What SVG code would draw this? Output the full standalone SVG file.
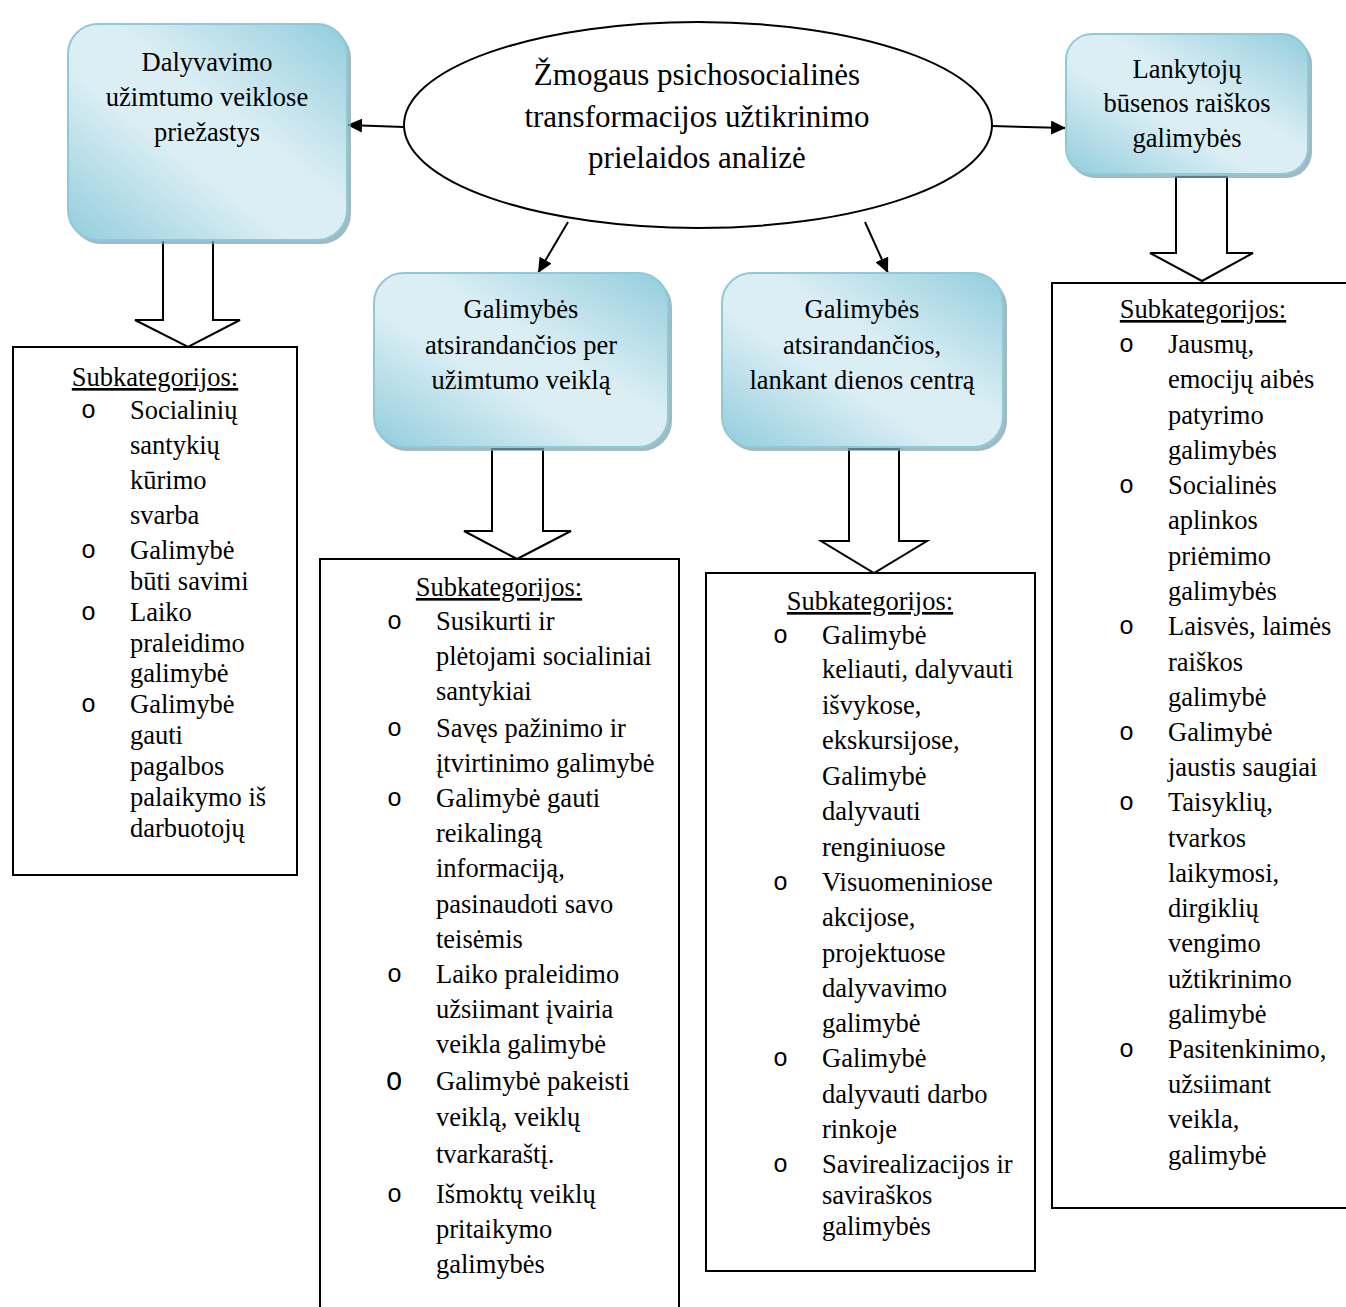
<svg xmlns="http://www.w3.org/2000/svg" width="1346" height="1307" viewBox="0 0 1346 1307">
  <style>
    .t { font-family: "Liberation Serif", "Times New Roman", serif; font-size: 26.5px; fill: #000; }
    .c { text-anchor: middle; }
    .big { font-size: 31px; }
    .u { text-decoration: underline; }
    .b { font-family: "Liberation Mono", "Courier New", monospace; font-size: 25px; fill: #000; }
    .card { fill: url(#cardFill); stroke: #8ec9d9; stroke-width: 2; }
    .shadow { fill: #7fa3ae; opacity: 0.75; }
    .frame { fill: #fff; stroke: #000; stroke-width: 2; }
    .block { fill: #fff; stroke: #000; stroke-width: 2; stroke-linejoin: miter; }
    .link { stroke: #000; stroke-width: 2; fill: none; marker-end: url(#head); }
  </style>
  <defs>
    <linearGradient id="cardFill" x1="1" y1="0" x2="0" y2="1">
      <stop offset="0" stop-color="#92cddc"/>
      <stop offset="0.42" stop-color="#dbeef4"/>
      <stop offset="0.6" stop-color="#dbeef4"/>
      <stop offset="1" stop-color="#92cddc"/>
    </linearGradient>
    <marker id="head" markerUnits="userSpaceOnUse" markerWidth="16" markerHeight="14" refX="15" refY="7" orient="auto">
      <path d="M0,0 L15,7 L0,14 Z" fill="#000"/>
    </marker>
  </defs>

  <rect width="1346" height="1307" fill="#fff"/>

  <!-- connectors from the central ellipse -->
  <g id="connectors">
    <line class="link" x1="404" y1="127" x2="347" y2="125"/>
    <line class="link" x1="992" y1="126" x2="1066" y2="128"/>
    <line class="link" x1="568" y1="222" x2="538" y2="273"/>
    <line class="link" x1="865" y1="222" x2="888" y2="273"/>
    <!-- block arrows down to the subcategory frames -->
    <path class="block" d="M163,239 L213,239 L213,320 L240,320 L188,347 L135,320 L163,320 Z"/>
    <path class="block" d="M492,449 L543,449 L543,531 L571,531 L517,559 L464,531 L492,531 Z"/>
    <path class="block" d="M849,449 L899,449 L899,541 L927,541 L874,573 L821,541 L849,541 Z"/>
    <path class="block" d="M1176,177 L1227,177 L1227,253 L1253,253 L1202,281 L1150,253 L1176,253 Z"/>
  </g>

  <!-- central ellipse -->
  <g id="center">
    <ellipse cx="698" cy="125" rx="294" ry="103" fill="#fff" stroke="#000" stroke-width="2"/>
    <text class="t c big" x="697" y="85">Žmogaus psichosocialinės</text>
    <text class="t c big" x="697" y="127">transformacijos užtikrinimo</text>
    <text class="t c big" x="697" y="168">prielaidos analizė</text>
  </g>

  <!-- category cards -->
  <g id="card-reasons">
    <rect class="shadow" x="71" y="28" width="280" height="216" rx="30"/>
    <rect class="card" x="68" y="24" width="279" height="216" rx="30"/>
    <text class="t c" x="207" y="71">Dalyvavimo</text>
    <text class="t c" x="207" y="106">užimtumo veiklose</text>
    <text class="t c" x="207" y="141">priežastys</text>
  </g>

  <g id="card-activity">
    <rect class="shadow" x="377" y="277" width="295" height="174" rx="30"/>
    <rect class="card" x="374" y="273" width="294" height="174" rx="30"/>
    <text class="t c" x="521" y="318">Galimybės</text>
    <text class="t c" x="521" y="354">atsirandančios per</text>
    <text class="t c" x="521" y="389">užimtumo veiklą</text>
  </g>

  <g id="card-daycentre">
    <rect class="shadow" x="725" y="277" width="282" height="174" rx="30"/>
    <rect class="card" x="722" y="273" width="281" height="174" rx="30"/>
    <text class="t c" x="862" y="318">Galimybės</text>
    <text class="t c" x="862" y="354">atsirandančios,</text>
    <text class="t c" x="862" y="389">lankant dienos centrą</text>
  </g>

  <g id="card-visitors">
    <rect class="shadow" x="1069" y="38" width="243" height="140" rx="26"/>
    <rect class="card" x="1066" y="34" width="242" height="140" rx="26"/>
    <text class="t c" x="1187" y="78">Lankytojų</text>
    <text class="t c" x="1187" y="112">būsenos raiškos</text>
    <text class="t c" x="1187" y="147">galimybės</text>
  </g>

  <!-- subcategory frames -->
  <g id="sub-reasons">
    <rect class="frame" x="13" y="347" width="284" height="528"/>
    <text class="t c u" x="155" y="386">Subkategorijos:</text>
    <text class="b" x="81" y="418">o</text>
    <text class="t" x="130" y="419">Socialinių</text>
    <text class="t" x="130" y="454">santykių</text>
    <text class="t" x="130" y="489">kūrimo</text>
    <text class="t" x="130" y="524">svarba</text>
    <text class="b" x="81" y="558">o</text>
    <text class="t" x="130" y="559">Galimybė</text>
    <text class="t" x="130" y="590">būti savimi</text>
    <text class="b" x="81" y="620">o</text>
    <text class="t" x="130" y="621">Laiko</text>
    <text class="t" x="130" y="652">praleidimo</text>
    <text class="t" x="130" y="682">galimybė</text>
    <text class="b" x="81" y="712">o</text>
    <text class="t" x="130" y="713">Galimybė</text>
    <text class="t" x="130" y="744">gauti</text>
    <text class="t" x="130" y="775">pagalbos</text>
    <text class="t" x="130" y="806">palaikymo iš</text>
    <text class="t" x="130" y="837">darbuotojų</text>
  </g>

  <g id="sub-activity">
    <rect class="frame" x="320" y="559" width="359" height="760"/>
    <text class="t c u" x="499" y="596">Subkategorijos:</text>
    <text class="b" x="387" y="629">o</text>
    <text class="t" x="436" y="630">Susikurti ir</text>
    <text class="t" x="436" y="665">plėtojami socialiniai</text>
    <text class="t" x="436" y="700">santykiai</text>
    <text class="b" x="387" y="736">o</text>
    <text class="t" x="436" y="737">Savęs pažinimo ir</text>
    <text class="t" x="436" y="772">įtvirtinimo galimybė</text>
    <text class="b" x="387" y="806">o</text>
    <text class="t" x="436" y="807">Galimybė gauti</text>
    <text class="t" x="436" y="842">reikalingą</text>
    <text class="t" x="436" y="877">informaciją,</text>
    <text class="t" x="436" y="913">pasinaudoti savo</text>
    <text class="t" x="436" y="948">teisėmis</text>
    <text class="b" x="387" y="982">o</text>
    <text class="t" x="436" y="983">Laiko praleidimo</text>
    <text class="t" x="436" y="1018">užsiimant įvairia</text>
    <text class="t" x="436" y="1053">veikla galimybė</text>
    <text class="b" x="386" y="1090" style="font-size:27px">O</text>
    <text class="t" x="436" y="1090">Galimybė pakeisti</text>
    <text class="t" x="436" y="1126">veiklą, veiklų</text>
    <text class="t" x="436" y="1163">tvarkaraštį.</text>
    <text class="b" x="387" y="1202">o</text>
    <text class="t" x="436" y="1203">Išmoktų veiklų</text>
    <text class="t" x="436" y="1238">pritaikymo</text>
    <text class="t" x="436" y="1273">galimybės</text>
  </g>

  <g id="sub-daycentre">
    <rect class="frame" x="706" y="573" width="329" height="698"/>
    <text class="t c u" x="870" y="610">Subkategorijos:</text>
    <text class="b" x="773" y="643">o</text>
    <text class="t" x="822" y="644">Galimybė</text>
    <text class="t" x="822" y="678">keliauti, dalyvauti</text>
    <text class="t" x="822" y="714">išvykose,</text>
    <text class="t" x="822" y="749">ekskursijose,</text>
    <text class="t" x="822" y="785">Galimybė</text>
    <text class="t" x="822" y="820">dalyvauti</text>
    <text class="t" x="822" y="856">renginiuose</text>
    <text class="b" x="773" y="890">o</text>
    <text class="t" x="822" y="891">Visuomeniniose</text>
    <text class="t" x="822" y="926">akcijose,</text>
    <text class="t" x="822" y="962">projektuose</text>
    <text class="t" x="822" y="997">dalyvavimo</text>
    <text class="t" x="822" y="1032">galimybė</text>
    <text class="b" x="773" y="1066">o</text>
    <text class="t" x="822" y="1067">Galimybė</text>
    <text class="t" x="822" y="1103">dalyvauti darbo</text>
    <text class="t" x="822" y="1138">rinkoje</text>
    <text class="b" x="773" y="1172">o</text>
    <text class="t" x="822" y="1173">Savirealizacijos ir</text>
    <text class="t" x="822" y="1204">saviraškos</text>
    <text class="t" x="822" y="1235">galimybės</text>
  </g>

  <g id="sub-visitors">
    <rect class="frame" x="1052" y="283" width="310" height="925"/>
    <text class="t c u" x="1203" y="318">Subkategorijos:</text>
    <text class="b" x="1119" y="352">o</text>
    <text class="t" x="1168" y="353">Jausmų,</text>
    <text class="t" x="1168" y="388">emocijų aibės</text>
    <text class="t" x="1168" y="424">patyrimo</text>
    <text class="t" x="1168" y="459">galimybės</text>
    <text class="b" x="1119" y="493">o</text>
    <text class="t" x="1168" y="494">Socialinės</text>
    <text class="t" x="1168" y="529">aplinkos</text>
    <text class="t" x="1168" y="565">priėmimo</text>
    <text class="t" x="1168" y="600">galimybės</text>
    <text class="b" x="1119" y="634">o</text>
    <text class="t" x="1168" y="635">Laisvės, laimės</text>
    <text class="t" x="1168" y="671">raiškos</text>
    <text class="t" x="1168" y="706">galimybė</text>
    <text class="b" x="1119" y="740">o</text>
    <text class="t" x="1168" y="741">Galimybė</text>
    <text class="t" x="1168" y="776">jaustis saugiai</text>
    <text class="b" x="1119" y="810">o</text>
    <text class="t" x="1168" y="811">Taisyklių,</text>
    <text class="t" x="1168" y="847">tvarkos</text>
    <text class="t" x="1168" y="882">laikymosi,</text>
    <text class="t" x="1168" y="917">dirgiklių</text>
    <text class="t" x="1168" y="952">vengimo</text>
    <text class="t" x="1168" y="988">užtikrinimo</text>
    <text class="t" x="1168" y="1023">galimybė</text>
    <text class="b" x="1119" y="1057">o</text>
    <text class="t" x="1168" y="1058">Pasitenkinimo,</text>
    <text class="t" x="1168" y="1093">užsiimant</text>
    <text class="t" x="1168" y="1128">veikla,</text>
    <text class="t" x="1168" y="1164">galimybė</text>
  </g>
</svg>
